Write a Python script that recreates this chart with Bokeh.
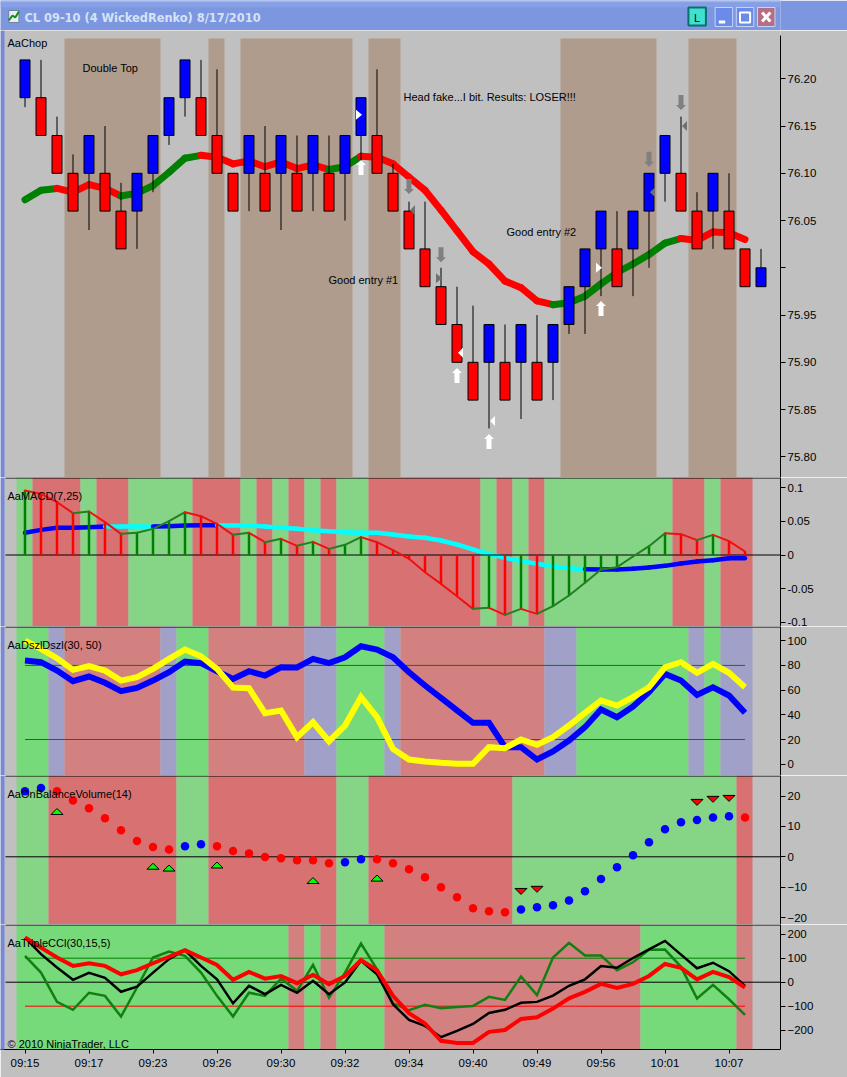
from bokeh.plotting import figure
from bokeh.layouts import column
from bokeh.models import FixedTicker, PolyAnnotation, Label
from bokeh.core.properties import value
from bokeh.embed import file_html
from bokeh.resources import INLINE

# ---------- data ----------
OPEN_PRICE = [76.22,76.18,76.14,76.10,76.10,76.10,76.06,76.06,76.10,76.14,76.18,76.18,76.14,76.10,76.10,76.10,76.10,76.10,76.10,76.10,76.10,76.14,76.14,76.10,76.06,76.02,75.98,75.94,75.90,75.90,75.90,75.90,75.90,75.90,75.94,75.98,76.02,76.02,76.02,76.06,76.10,76.10,76.06,76.06,76.06,76.02,75.98]
BODY_END = [76.18,76.14,76.10,76.06,76.14,76.06,76.02,76.10,76.14,76.18,76.22,76.14,76.10,76.06,76.14,76.06,76.14,76.06,76.14,76.06,76.14,76.18,76.10,76.06,76.02,75.98,75.94,75.90,75.86,75.94,75.86,75.94,75.86,75.94,75.98,76.02,76.06,75.98,76.06,76.10,76.14,76.06,76.02,76.10,76.02,75.98,76.00]
HIGH = [76.22,76.22,76.16,76.12,76.14,76.15,76.09,76.10,76.14,76.18,76.22,76.22,76.21,76.10,76.14,76.15,76.14,76.14,76.14,76.14,76.14,76.18,76.21,76.11,76.07,76.07,76.00,75.98,75.96,75.94,75.94,75.94,75.95,75.94,75.98,76.02,76.06,76.06,76.06,76.10,76.14,76.16,76.08,76.10,76.10,76.02,76.02]
LOW = [76.17,76.14,76.10,76.06,76.04,76.06,76.02,76.02,76.08,76.13,76.16,76.14,76.10,76.06,76.06,76.06,76.04,76.06,76.06,76.06,76.05,76.10,76.10,76.06,76.02,75.98,75.94,75.90,75.86,75.83,75.86,75.84,75.86,75.86,75.93,75.93,75.97,75.98,75.97,76.00,76.07,76.06,76.02,76.02,76.02,75.98,75.98]
BODY_COLOR = "BRRRBRRBBBBRRRBRBRBRBBRRRRRRRBRBRBBBBRBBBRRBRRB"
TREND = [76.072,76.082,76.084,76.080,76.088,76.084,76.076,76.079,76.087,76.101,76.116,76.119,76.117,76.110,76.113,76.107,76.112,76.105,76.109,76.104,76.107,76.118,76.117,76.110,76.096,76.082,76.061,76.039,76.017,76.004,75.986,75.979,75.965,75.961,75.963,75.970,75.983,75.995,76.004,76.014,76.026,76.031,76.029,76.038,76.037,76.030]
TREND_STATE = "GGG" + "RRRR" + "GGGGG" + "RRRRRRRR" + "GG" + "R"*12 + "G"*8 + "RRRR"
CHOP_STATE = "---"+"B"*6+"---"+"B"+"-"+"B"*7+"-"+"BB"+"-"*10+"B"*6+"--"+"BBB"+"-"
PRICE_TICKS = [76.20,76.15,76.10,76.05,76.00,75.95,75.90,75.85,75.80]
UP_ARROWS = [(21,76.114),(27,75.894),(29,75.824),(36,75.965)]
DOWN_ARROWS = [(24,76.078),(26,76.006),(39,76.107),(41,76.167)]
MARK_WHITE_RIGHT = [(21,76.162),(36,76.000)]
MARK_WHITE_LEFT = [(27,75.910),(29,75.838)]
MARK_GRAY_RIGHT = [(26,75.989)]
MARK_GRAY_LEFT = [(24,76.061),(39,76.080),(41,76.150)]

MACD_STATE = "G"+"RRR"+"G"+"RR"+"GGGG"+"RRR"+"G"+"R"+"G"+"R"+"G"+"R"+"GG"+"R"*7+"G"+"R"+"G"+"R"+"G"*8+"RR"+"G"+"RR"
MACD_HIST = [.0957,.0907,.0784,.0621,.0645,.0487,.0314,.0329,.0388,.0502,.0635,.0576,.0462,.0299,.0329,.0190,.0240,.0136,.0195,.0091,.0151,.0265,.0190,.0072,-.0057,-.0255,-.0428,-.0611,-.0799,-.0784,-.0888,-.0799,-.0873,-.0759,-.0601,-.0413,-.0215,-.0181,-.0022,.0131,.0324,.0309,.0220,.0299,.0205,.0052]
MACD_AVG = [.0329,.0373,.0403,.0403,.0413,.0423,.0423,.0423,.0423,.0428,.0438,.0443,.0443,.0438,.0438,.0423,.0403,.0388,.0368,.0354,.0339,.0329,.0329,.0304,.0274,.0255,.0215,.0156,.0082,.0017,-.0042,-.0091,-.0131,-.0166,-.0195,-.0210,-.0215,-.0215,-.0205,-.0185,-.0161,-.0126,-.0096,-.0077,-.0047,-.0047]
MACD_AVG_STATE = "B"*6+"CCC"+"BBBB"+"C"*23+"B"*10
MACD_TICKS = [0.1,0.05,0,-0.05,-0.1]
MACD_LABELS = ["0.1","0.05","0","-0.05","-0.1"]

DSZ_STATE = "GG"+"P"+"R"*6+"P"+"GG"+"R"*6+"PP"+"GGG"+"P"+"R"*9+"PP"+"G"*7+"P"+"G"+"PP"
DSZ_BLUE = [83.9,82.6,75.8,67.2,71.0,65.9,59.1,61.8,67.7,74.5,83.1,81.8,75.3,69.1,75.3,71.8,78.5,78.3,85.3,81.8,86.6,95.5,92.8,86.6,74.5,63.7,53.7,43.5,33.5,33.5,13.8,13.8,3.8,10.3,19.2,30.0,44.3,38.0,46.7,58.3,73.1,67.7,56.1,62.3,55.6,41.6]
DSZ_YELLOW = [100.1,93.4,85.8,76.4,79.4,75.8,67.7,70.4,77.2,85.3,92.8,87.4,77.2,62.1,61.5,41.3,43.5,21.9,34.0,18.6,31.3,54.3,38.1,12.4,3.8,2.2,1.1,0.3,0.3,13.8,13.0,20.0,15.7,21.9,31.3,41.6,51.6,47.5,54.3,62.3,78.5,82.6,74.0,81.2,74.0,62.3]
DSZ_TICKS = [100,80,60,40,20,0]

OBV_STATE = "GG"+"R"*8+"GG"+"R"*8+"GG"+"R"*9+"G"*14+"R"
OBV_DOTS = [21.6,22.6,21.6,18.5,16.0,12.7,8.7,5.2,3.2,2.4,3.5,4.1,3.5,1.9,1.1,-0.1,-0.5,-1.1,-1.1,-2.1,-1.8,-0.8,-0.8,-2.1,-4.1,-6.7,-10.0,-13.3,-16.9,-17.9,-18.2,-17.3,-16.6,-15.9,-14.4,-11.3,-7.3,-3.4,0.5,4.8,9.1,11.4,12.1,12.9,13.3,12.9]
OBV_DOT_STATE = "BB"+"R"*8+"BB"+"R"*8+"BB"+"R"*9+"B"*14+"R"
OBV_UP = [(2,14.9),(8,-3.1),(9,-3.7),(12,-2.7),(18,-7.8),(22,-7.0)]
OBV_DOWN = [(31,-11.4),(32,-10.7),(42,17.9),(43,18.9),(44,19.2)]
OBV_TICKS = [20,10,0,-10,-20]

CCI_STATE = "G"*17+"R"+"G"+"R"+"GGG"+"R"*16+"G"*6+"R"
CCI_RED = [186,144,103,68,79,68,33,50,79,106,133,103,72,10,43,15,26,-4,31,-8,26,92,50,-57,-129,-172,-244,-253,-253,-207,-199,-153,-146,-110,-67,-40,-7,-24,-7,26,76,60,12,43,21,-22]
CCI_BLACK = [186,117,61,10,39,18,-40,-19,40,96,133,68,12,-88,-15,-50,-11,-44,6,-50,-1,89,33,-92,-157,-182,-229,-203,-174,-128,-115,-86,-82,-56,-15,12,67,60,101,137,172,115,58,81,46,-15]
CCI_GREEN = [110,40,-82,-115,-44,-57,-143,-22,103,128,110,40,-57,-143,-44,-57,15,-36,72,-65,40,161,54,-88,-117,-94,-108,-103,-99,-61,-74,24,-54,103,164,111,111,50,83,135,136,64,-68,-11,-71,-136]
CCI_TICKS = [200,100,0,-100,-200]
TIME_TICKS = [0,4,8,12,16,20,24,28,32,36,40,44]
TIME_LABELS = ["09:15","09:17","09:23","09:26","09:30","09:32","09:34","09:40","09:49","09:56","10:01","10:07"]

# ---------- styling / layout ----------
GRAY = "#C0C0C0"
EDGE = "#7488DC"
FONT = "Liberation Sans"
PXW = 16.0
def xv(px):
    return (px - 24.5) / PXW
X_RANGE = (xv(0), xv(780))
N = 46

def panel(top, bottom, y0_px, per_px, y0_val, ticks, labels=None, bottom_axis=False, bounds_top=None):
    def val(px):
        return y0_val + (y0_px - px) * per_px
    extra = 28 if bottom_axis else 0
    p = figure(width=847, height=(bottom - top) + extra,
               x_range=X_RANGE, y_range=(val(bottom), val(top)),
               x_axis_location="below" if bottom_axis else None, y_axis_location="right",
               toolbar_location=None, output_backend="svg", tools="",
               min_border_left=0, min_border_right=67, min_border_top=0, min_border_bottom=extra,
               background_fill_color=GRAY, border_fill_color=GRAY, outline_line_color=None)
    p.grid.visible = False
    ax = p.yaxis[0]
    ax.ticker = FixedTicker(ticks=ticks)
    ax.major_tick_out = 5
    ax.major_tick_in = 0
    ax.minor_tick_out = 0
    ax.minor_tick_in = 0
    ax.major_label_standoff = 2
    ax.major_label_text_font = FONT
    ax.major_label_text_font_size = "11.5px"
    ax.major_label_text_color = "#000000"
    ax.axis_line_color = "#000000"
    ax.major_tick_line_color = "#000000"
    if labels:
        ax.major_label_overrides = {t: l for t, l in zip(ticks, labels)}
    if bounds_top is not None:
        ax.bounds = (val(bottom), val(bounds_top))
    # window edges
    h = (bottom - top) + extra
    p.add_layout(PolyAnnotation(xs=[844, 847, 847, 844], ys=[0, 0, h, h], xs_units="canvas", ys_units="canvas",
                                fill_color=EDGE, fill_alpha=1, line_color=None, level="overlay"))
    p.add_layout(PolyAnnotation(xs=[0, 4, 4, 0], ys=[0, 0, h, h], xs_units="canvas", ys_units="canvas",
                                fill_color=EDGE, fill_alpha=1, line_color=None, level="overlay"))
    return p, val

def shade(p, state, colors, bottom, top):
    start = 0
    for k in range(1, len(state) + 1):
        if k == len(state) or state[k] != state[start]:
            c = colors.get(state[start])
            if c:
                p.quad(left=[start - 0.53125], right=[k - 0.53125], bottom=[bottom], top=[top],
                       fill_color=c, line_color=None)
            start = k

def seg_lines(p, ys, state, colors, width):
    for k in range(1, len(ys)):
        p.line([k - 1, k], [ys[k - 1], ys[k]], line_color=colors[state[k]], line_width=width,
               line_cap="round", line_join="round")

def caption(p, px, y, s, size="11px"):
    p.text(x=[xv(px)], y=[y], text=[s], text_font=value(FONT), text_font_size=value(size),
           text_color="#000000", text_align="left", text_baseline="middle")

def rule(p, y):
    p.line([xv(5), xv(780)], [y, y], line_color="#000000", line_width=1)

# ---------- title bar ----------
tb = figure(width=847, height=30, x_range=(0, 847), y_range=(30, 0),
            x_axis_location=None, y_axis_location=None, toolbar_location=None, output_backend="svg", tools="",
            min_border=0, background_fill_color="#7C97E0", border_fill_color="#7C97E0", outline_line_color=None)
tb.grid.visible = False
tb.quad(left=[0], right=[847], top=[0], bottom=[2], fill_color="#9DB4F0", line_color=None)
tb.quad(left=[0], right=[847], top=[2], bottom=[7], fill_color="#86A0E6", line_color=None)
tb.quad(left=[9], right=[20], top=[10], bottom=[22], fill_color="#E8EEF8", line_color="#7080A0")
tb.line([9, 13, 16, 20], [20, 15, 17, 11], line_color="#109010", line_width=2)
tb.text(x=[26], y=[17.5], text=["CL 09-10 (4 WickedRenko)  8/17/2010"], text_font=value("DejaVu Sans"),
        text_font_style="bold", text_font_size=value("11.4px"), text_color="#D6E2F6", text_baseline="middle")
tb.quad(left=[747], right=[766], top=[7], bottom=[25], fill_color="#40E0D0", line_color="#0E6E6E", line_width=2)
tb.text(x=[756.5], y=[17], text=["L"], text_font=value(FONT), text_font_size=value("11px"), text_align="center",
        text_baseline="middle", text_color="#000000")
tb.quad(left=[776, 799, 822], right=[795, 818, 841], top=[7, 7, 7], bottom=[26, 26, 26],
        fill_color=["#6A8BEA", "#6A8BEA", "#B56F85"], line_color="#C8D4F4", line_width=1)
tb.quad(left=[780], right=[787], top=[20], bottom=[23], fill_color="#FFFFFF", line_color=None)
tb.quad(left=[803], right=[814], top=[12], bottom=[22], fill_color=None, line_color="#FFFFFF", line_width=2)
tb.multi_line([[827, 836], [836, 827]], [[12, 21], [12, 21]], line_color="#FFFFFF", line_width=3)

# ---------- price panel ----------
P_PER = 1 / 945.0
p1, v1 = panel(30, 477, 172.8, P_PER, 76.10, PRICE_TICKS, bounds_top=35)
p1.yaxis[0].major_label_overrides = {t: ("" if t == 76.00 else f"{t:.2f}") for t in PRICE_TICKS}
shade(p1, CHOP_STATE, {"B": "#B09C8C"}, v1(477), v1(38))
idx = list(range(47))
seg_lines(p1, TREND, TREND_STATE, {"G": "#008000", "R": "#FF0000"}, 7)
p1.segment(x0=idx, x1=idx, y0=LOW, y1=HIGH, line_color="#000000", line_width=1)
p1.vbar(x=idx, width=10 / PXW, bottom=[min(a, b) for a, b in zip(OPEN_PRICE, BODY_END)],
        top=[max(a, b) for a, b in zip(OPEN_PRICE, BODY_END)],
        fill_color=["#0000FF" if c == "B" else "#FF0000" for c in BODY_COLOR], line_color="#000000", line_width=1)

def arrow(p, i, y, up, color):
    s = 1 if up else -1
    dx = [0, 5, 2.5, 2.5, -2.5, -2.5, -5]
    dy = [0, 5, 5, 15, 15, 5, 5]
    p.patch([i + d / PXW for d in dx], [y - s * d * P_PER for d in dy], fill_color=color, line_color=None)

for i, y in UP_ARROWS:
    arrow(p1, i, y, True, "#FFFFFF")
for i, y in DOWN_ARROWS:
    arrow(p1, i, y, False, "#808080")

def mark(p, i, y, right, color):
    if right:
        xs = [i - 5 / PXW, i + 1 / PXW, i - 5 / PXW]
    else:
        xs = [i + 6 / PXW, i + 1 / PXW, i + 6 / PXW]
    p.patch(xs, [y + 5 * P_PER, y, y - 5 * P_PER], fill_color=color, line_color=None)

for i, y in MARK_WHITE_RIGHT:
    mark(p1, i, y, True, "#FFFFFF")
for i, y in MARK_WHITE_LEFT:
    mark(p1, i, y, False, "#FFFFFF")
for i, y in MARK_GRAY_RIGHT:
    mark(p1, i, y, True, "#707070")
for i, y in MARK_GRAY_LEFT:
    mark(p1, i, y, False, "#707070")

caption(p1, 7, v1(42), "AaChop")
caption(p1, 82, v1(67), "Double Top")
caption(p1, 403, v1(96), "Head fake...I bit.  Results: LOSER!!!")
caption(p1, 328, v1(279), "Good entry #1")
caption(p1, 506, v1(231), "Good entry #2")
flag_x = [781, 788, 817, 817, 788]
flag_y = [76.00, 76.00 + 7 * P_PER, 76.00 + 7 * P_PER, 76.00 - 7 * P_PER, 76.00 - 7 * P_PER]
p1.add_layout(PolyAnnotation(xs=flag_x, ys=flag_y, xs_units="canvas", ys_units="data",
                             fill_color="#FFFF00", fill_alpha=1, line_color="#000000", line_width=1, level="overlay"))
p1.add_layout(Label(x=788, y=76.00, x_units="canvas", y_units="data", text="76.00", text_font=FONT,
                    text_font_size="11.5px", text_baseline="middle", text_color="#000000", level="overlay"))

# ---------- MACD ----------
p2, v2 = panel(477, 626, 554.5, 1 / 674.0, 0.0, MACD_TICKS, MACD_LABELS)
shade(p2, MACD_STATE, {"G": "#86D486", "R": "#D87272"}, v2(626), v2(477))
rule(p2, v2(477.5))
seg_lines(p2, MACD_AVG, MACD_AVG_STATE, {"B": "#0000FF", "C": "#00FFFF"}, 4.5)
rule(p2, 0)
hcol = {"G": "#008000", "R": "#FF0000"}
p2.segment(x0=list(range(N)), x1=list(range(N)), y0=[0] * N, y1=MACD_HIST,
           line_color=[hcol[c] for c in MACD_STATE], line_width=2.5)
seg_lines(p2, MACD_HIST, MACD_STATE, {"G": "#208020", "R": "#F01010"}, 2)
caption(p2, 7, v2(495), "AaMACD(7,25)")

# ---------- DSZ ----------
p3, v3 = panel(626, 775, 763.7, 1 / 1.235, 0.0, DSZ_TICKS)
shade(p3, DSZ_STATE, {"G": "#76DA7A", "R": "#D28080", "P": "#A0A0C8"}, v3(775), v3(626))
rule(p3, v3(626.5))
p3.line([0, N - 1], [80, 80], line_color="#008000", line_width=1)
p3.line([0, N - 1], [20, 20], line_color="#FF0000", line_width=1)
p3.line(list(range(N)), DSZ_BLUE, line_color="#0000FF", line_width=6, line_join="miter")
p3.line(list(range(N)), DSZ_YELLOW, line_color="#FFFF00", line_width=6, line_join="miter")
caption(p3, 7, v3(644), "AaDszlDszl(30, 50)")

# ---------- OBV ----------
p4, v4 = panel(775, 924, 856.3, 10 / 30.4, 0.0, OBV_TICKS)
shade(p4, OBV_STATE, {"G": "#86D486", "R": "#D87272"}, v4(924), v4(775))
rule(p4, v4(775.5))
rule(p4, 0)
p4.scatter(x=list(range(N)), y=OBV_DOTS, size=8.5, marker="circle", line_color=None,
           fill_color=["#0000FF" if c == "B" else "#FF0000" for c in OBV_DOT_STATE])
OU = 10 / 30.4
for i, y in OBV_UP:
    p4.patch([i - 6 / PXW, i + 6 / PXW, i], [y - 3 * OU, y - 3 * OU, y + 3 * OU],
             fill_color="#00FF00", line_color="#000000", line_width=1)
for i, y in OBV_DOWN:
    p4.patch([i - 6 / PXW, i + 6 / PXW, i], [y + 3 * OU, y + 3 * OU, y - 3 * OU],
             fill_color="#FF0000", line_color="#000000", line_width=1)
caption(p4, 7, v4(793), "AaOnBalanceVolume(14)")

# ---------- CCI ----------
p5, v5 = panel(924, 1049, 981.7, 100 / 24.0, 0.0, CCI_TICKS, bottom_axis=True)
shade(p5, CCI_STATE, {"G": "#76DA7A", "R": "#D28080"}, v5(1049), v5(924))
rule(p5, v5(924.5))
p5.line([0, N - 1], [100, 100], line_color="#008000", line_width=1)
p5.line([0, N - 1], [-100, -100], line_color="#FF0000", line_width=1)
rule(p5, 0)
p5.line(list(range(N)), CCI_GREEN, line_color="#108010", line_width=2.5, line_join="miter")
p5.line(list(range(N)), CCI_BLACK, line_color="#000000", line_width=2.5, line_join="miter")
p5.line(list(range(N)), CCI_RED, line_color="#FF0000", line_width=4, line_join="miter")
caption(p5, 7, v5(942), "AaTripleCCl(30,15,5)")
caption(p5, 7, v5(1043), "\u00a9 2010 NinjaTrader, LLC")
xa = p5.xaxis[0]
xa.ticker = FixedTicker(ticks=TIME_TICKS)
xa.major_label_overrides = dict(zip(TIME_TICKS, TIME_LABELS))
xa.major_tick_out = 4
xa.major_tick_in = 0
xa.minor_tick_out = 0
xa.minor_tick_in = 0
xa.major_label_standoff = 3
xa.major_label_text_font = FONT
xa.major_label_text_font_size = "11.5px"
xa.major_label_text_color = "#000000"
xa.axis_line_color = "#000000"
p5.add_layout(PolyAnnotation(xs=[0, 847, 847, 0], ys=[151, 151, 153, 153], xs_units="canvas", ys_units="canvas",
                             fill_color=EDGE, fill_alpha=1, line_color=None, level="overlay"))

page = column(tb, p1, p2, p3, p4, p5, spacing=0)
open("out.html", "w").write(file_html(page, INLINE))
